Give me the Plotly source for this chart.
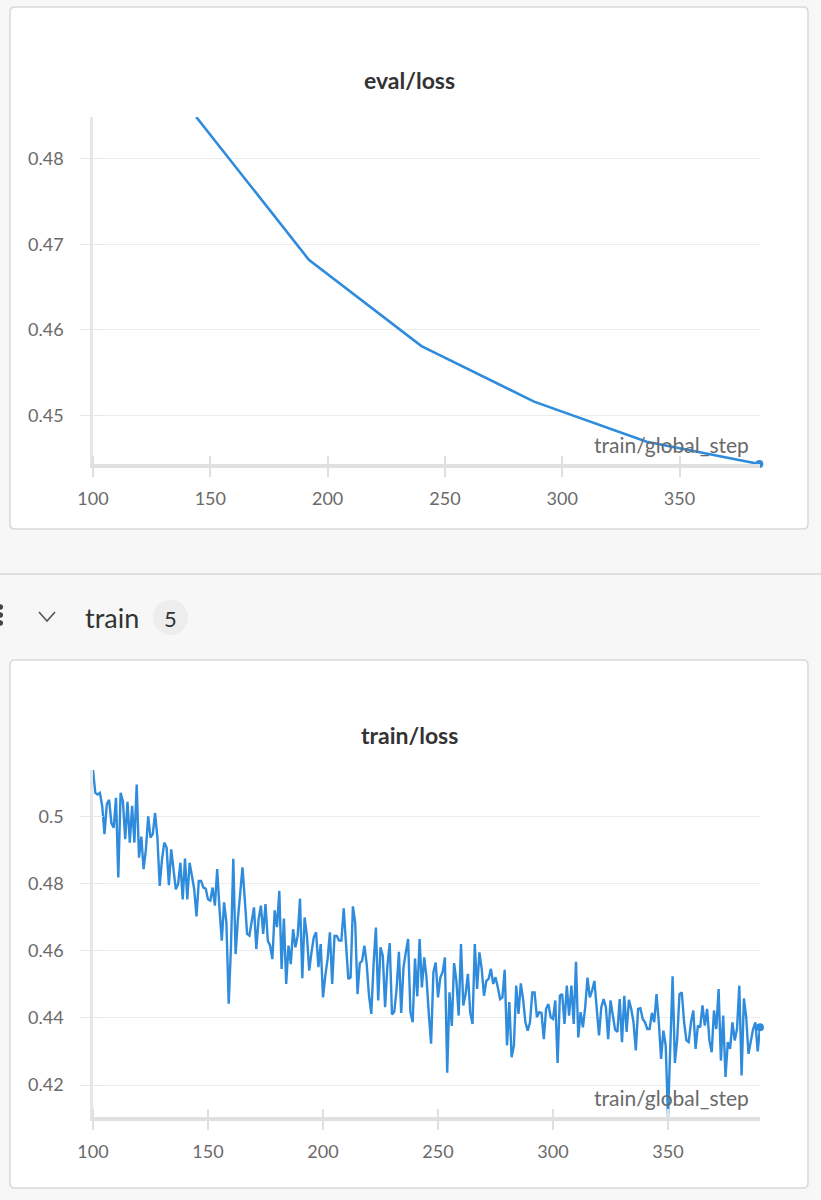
import plotly.graph_objects as go

# ---------------- data ----------------
eval_steps = [144, 192, 240, 288, 336, 384]
eval_loss = [0.4849, 0.4682, 0.4581, 0.4516, 0.4469, 0.4443]

train_start_step = 100
train_loss = [
    0.5138, 0.5070, 0.5065, 0.5070, 0.5031, 0.4947, 0.5036, 0.5049, 0.4980, 0.4966,
    0.5055, 0.4818, 0.5070, 0.5045, 0.4932, 0.5043, 0.4922, 0.5031, 0.4922, 0.5095,
    0.4877, 0.4940, 0.4843, 0.4902, 0.5000, 0.4937, 0.4947, 0.5010, 0.4937, 0.4793,
    0.4872, 0.4922, 0.4907, 0.4795, 0.4902, 0.4838, 0.4783, 0.4798, 0.4862, 0.4753,
    0.4874, 0.4753, 0.4862, 0.4823, 0.4783, 0.4702, 0.4808, 0.4808, 0.4788, 0.4785,
    0.4753, 0.4749, 0.4788,
    0.4734, 0.4843, 0.4724, 0.4630, 0.4744, 0.4684, 0.4442, 0.4615, 0.4874, 0.4590,
    0.4694, 0.4783, 0.4848, 0.4753, 0.4650, 0.4645, 0.4684, 0.4729, 0.4605, 0.4694,
    0.4734, 0.4650, 0.4739, 0.4630, 0.4615, 0.4575, 0.4720, 0.4670, 0.4778, 0.4546,
    0.4696, 0.4501, 0.4615, 0.4560, 0.4664, 0.4610, 0.4645, 0.4755, 0.4518, 0.4699,
    0.4645, 0.4541, 0.4595, 0.4640, 0.4655, 0.4551, 0.4620, 0.4461, 0.4526, 0.4575,
    0.4655,
    0.4501, 0.4644, 0.4644, 0.4630, 0.4630, 0.4726, 0.4615, 0.4516, 0.4521, 0.4732,
    0.4684, 0.4471, 0.4563, 0.4570, 0.4615, 0.4560, 0.4466, 0.4412, 0.4560, 0.4669,
    0.4452, 0.4610, 0.4585, 0.4432, 0.4555, 0.4623, 0.4410, 0.4418, 0.4486, 0.4597,
    0.4415, 0.4550, 0.4595, 0.4635, 0.4417, 0.4387, 0.4577, 0.4464, 0.4635, 0.4491,
    0.4580, 0.4520, 0.4412, 0.4323, 0.4536, 0.4565, 0.4461, 0.4520, 0.4536,
    0.4580, 0.4237, 0.4476, 0.4376, 0.4563, 0.4510, 0.4407, 0.4620, 0.4437, 0.4471,
    0.4531, 0.4417, 0.4382, 0.4620, 0.4486, 0.4595, 0.4546, 0.4466, 0.4510, 0.4516,
    0.4546, 0.4501, 0.4521, 0.4491, 0.4456, 0.4461, 0.4543, 0.4318, 0.4447, 0.4283,
    0.4318, 0.4496, 0.4412, 0.4503, 0.4456, 0.4387, 0.4362, 0.4387, 0.4476, 0.4476,
    0.4402, 0.4417, 0.4415, 0.4337, 0.4427, 0.4441, 0.4402, 0.4397, 0.4452, 0.4266,
    0.4466, 0.4471, 0.4382, 0.4496, 0.4407, 0.4496, 0.4382, 0.4567, 0.4342, 0.4417,
    0.4372, 0.4432, 0.4520, 0.4461, 0.4481, 0.4510, 0.4427, 0.4348, 0.4432, 0.4456,
    0.4432, 0.4337, 0.4452, 0.4402, 0.4365, 0.4358, 0.4456, 0.4328, 0.4466, 0.4358,
    0.4454, 0.4427, 0.4387, 0.4303, 0.4427, 0.4429, 0.4397, 0.4387, 0.4367, 0.4367,
    0.4415, 0.4387, 0.4471, 0.4387, 0.4278, 0.4362, 0.4318, 0.4105,
    0.4308, 0.4524, 0.4266, 0.4337, 0.4471, 0.4476, 0.4387, 0.4333, 0.4328, 0.4387,
    0.4422, 0.4308, 0.4377, 0.4372, 0.4437, 0.4377, 0.4427, 0.4333, 0.4298, 0.4422,
    0.4367, 0.4486, 0.4273, 0.4407, 0.4224, 0.4328, 0.4308, 0.4387, 0.4333, 0.4367,
    0.4496, 0.4229, 0.4458, 0.4402, 0.4293, 0.4337, 0.4367, 0.4387, 0.4300, 0.4372,
]
train_steps = list(range(train_start_step, train_start_step + len(train_loss)))

x_ticks = [100, 150, 200, 250, 300, 350]
eval_y_ticks = [0.45, 0.46, 0.47, 0.48]
train_y_ticks = [0.42, 0.44, 0.46, 0.48, 0.5]
x_label = "train/global_step"
section_name = "train"
section_count = "5"

# ---------------- style ----------------
W, H = 821, 1200
BLUE = "#2f8bdc"
FONT = "Lato, 'Noto Sans', sans-serif"
TICK_COLOR = "#6a6a6a"
PAGE_BG = "#f7f7f7"
CARD_LINE = "#d9d9d9"
AXIS_X = "#e0e0e0"
AXIS_Y = "#e6e6e6"


def px(x):
    return x / W


def py(y):
    return 1 - y / H


def rrect(x0, y0, x1, y1, r):
    rx, ry = r / W, r / H
    X0, X1, Y0, Y1 = px(x0), px(x1), py(y0), py(y1)
    return (f"M {X0 + rx} {Y0} L {X1 - rx} {Y0} Q {X1} {Y0} {X1} {Y0 - ry} "
            f"L {X1} {Y1 + ry} Q {X1} {Y1} {X1 - rx} {Y1} "
            f"L {X0 + rx} {Y1} Q {X0} {Y1} {X0} {Y1 + ry} "
            f"L {X0} {Y0 - ry} Q {X0} {Y0} {X0 + rx} {Y0} Z")


fig = go.Figure()
fig.add_trace(go.Scatter(x=eval_steps, y=eval_loss, mode="lines",
                         line=dict(color=BLUE, width=2.6), xaxis="x", yaxis="y",
                         cliponaxis=False, hoverinfo="skip"))
fig.add_trace(go.Scatter(x=eval_steps[-1:], y=eval_loss[-1:], mode="markers",
                         marker=dict(color=BLUE, size=8), xaxis="x", yaxis="y",
                         cliponaxis=False, hoverinfo="skip"))
fig.add_trace(go.Scatter(x=train_steps, y=train_loss, mode="lines",
                         line=dict(color=BLUE, width=2.4), xaxis="x2", yaxis="y2",
                         cliponaxis=False, hoverinfo="skip"))
fig.add_trace(go.Scatter(x=train_steps[-1:], y=train_loss[-1:], mode="markers",
                         marker=dict(color=BLUE, size=8), xaxis="x2", yaxis="y2",
                         cliponaxis=False, hoverinfo="skip"))

xdom = [px(93), px(760)]


def xaxis_cfg(rng, anchor):
    return dict(domain=xdom, range=rng, anchor=anchor, tickvals=x_ticks,
                showgrid=False, zeroline=False, showline=True, automargin=False,
                linecolor=AXIS_X, linewidth=4, ticks="outside", ticklen=9,
                tickwidth=1.5, tickcolor=AXIS_X, ticklabelstandoff=6,
                minor=dict(tickvals=x_ticks, ticks="inside", ticklen=8,
                           tickwidth=1.5, tickcolor=AXIS_X, showgrid=False),
                tickfont=dict(family=FONT, size=18, color=TICK_COLOR))


def yaxis_cfg(dom, rng, ticks, anchor):
    return dict(domain=dom, range=rng, anchor=anchor, tickvals=ticks,
                showgrid=True, gridcolor="#ececec", gridwidth=1.2, zeroline=False,
                showline=True, linecolor=AXIS_Y, linewidth=2.5, automargin=False,
                ticks="outside", ticklen=10, tickcolor=AXIS_Y, tickwidth=1.2,
                minor=dict(tickvals=ticks, ticks="inside", ticklen=10,
                           tickwidth=1.2, tickcolor=AXIS_Y, showgrid=False),
                ticklabelstandoff=13,
                tickfont=dict(family=FONT, size=18, color=TICK_COLOR))


shapes = [
    dict(type="path", path=rrect(10, 7, 808, 529, 5), xref="paper", yref="paper",
         fillcolor="white", line=dict(color=CARD_LINE, width=1.5), layer="below"),
    dict(type="path", path=rrect(10, 660, 808, 1188, 5), xref="paper", yref="paper",
         fillcolor="white", line=dict(color=CARD_LINE, width=1.5), layer="below"),
    dict(type="line", x0=0, x1=1, y0=py(574), y1=py(574), xref="paper", yref="paper",
         line=dict(color="#d6d6d6", width=1.5), layer="below"),
    dict(type="circle", x0=px(153), x1=px(188), y0=py(600), y1=py(635),
         xref="paper", yref="paper", fillcolor="#ededed", line=dict(width=0), layer="below"),
    dict(type="path", path=f"M {px(39)} {py(612)} L {px(47)} {py(621)} L {px(55)} {py(612)}",
         xref="paper", yref="paper", line=dict(color="#555", width=1.6)),
]
for cy in (607, 615, 623):
    shapes.append(dict(type="circle", x0=px(-2.5), x1=px(3), y0=py(cy - 2.7), y1=py(cy + 2.7),
                       xref="paper", yref="paper", fillcolor="#444", line=dict(width=0)))

annotations = [
    dict(text="<b>eval/loss</b>", x=px(409), y=py(80), xref="paper", yref="paper",
         showarrow=False, xanchor="center", yanchor="middle",
         font=dict(family=FONT, size=23, color="#333")),
    dict(text="<b>train/loss</b>", x=px(409), y=py(735), xref="paper", yref="paper",
         showarrow=False, xanchor="center", yanchor="middle",
         font=dict(family=FONT, size=23, color="#333")),
    dict(text=x_label, x=1, y=0, xref="x domain", yref="y domain", xanchor="right",
         yanchor="bottom", xshift=-9, yshift=5, showarrow=False,
         font=dict(family=FONT, size=21, color="#6a6a6a")),
    dict(text=x_label, x=1, y=0, xref="x2 domain", yref="y2 domain", xanchor="right",
         yanchor="bottom", xshift=-9, yshift=5, showarrow=False,
         font=dict(family=FONT, size=21, color="#6a6a6a")),
    dict(text=section_name, x=px(83), y=py(617), xref="paper", yref="paper",
         xanchor="left", yanchor="middle", showarrow=False,
         font=dict(family=FONT, size=27, color="#333")),
    dict(text=section_count, x=px(170.5), y=py(618), xref="paper", yref="paper",
         xanchor="center", yanchor="middle", showarrow=False,
         font=dict(family=FONT, size=22, color="#333")),
]

fig.update_layout(
    width=W, height=H, margin=dict(l=0, r=0, t=0, b=0, pad=0, autoexpand=False),
    paper_bgcolor=PAGE_BG, plot_bgcolor="rgba(0,0,0,0)",
    showlegend=False, font=dict(family=FONT),
    xaxis=xaxis_cfg([100, 384.3], "y"),
    yaxis=yaxis_cfg([py(464), py(117)], [min(eval_loss), max(eval_loss)], eval_y_ticks, "x"),
    xaxis2=xaxis_cfg([100, 390], "y2"),
    yaxis2=yaxis_cfg([py(1117), py(770)], [min(train_loss), max(train_loss)], train_y_ticks, "x2"),
    shapes=shapes, annotations=annotations,
)

fig.write_html(
    "out.html",
    config={"displayModeBar": False},
    post_script="document.body.style.margin='0';document.body.style.overflow='hidden';",
)
